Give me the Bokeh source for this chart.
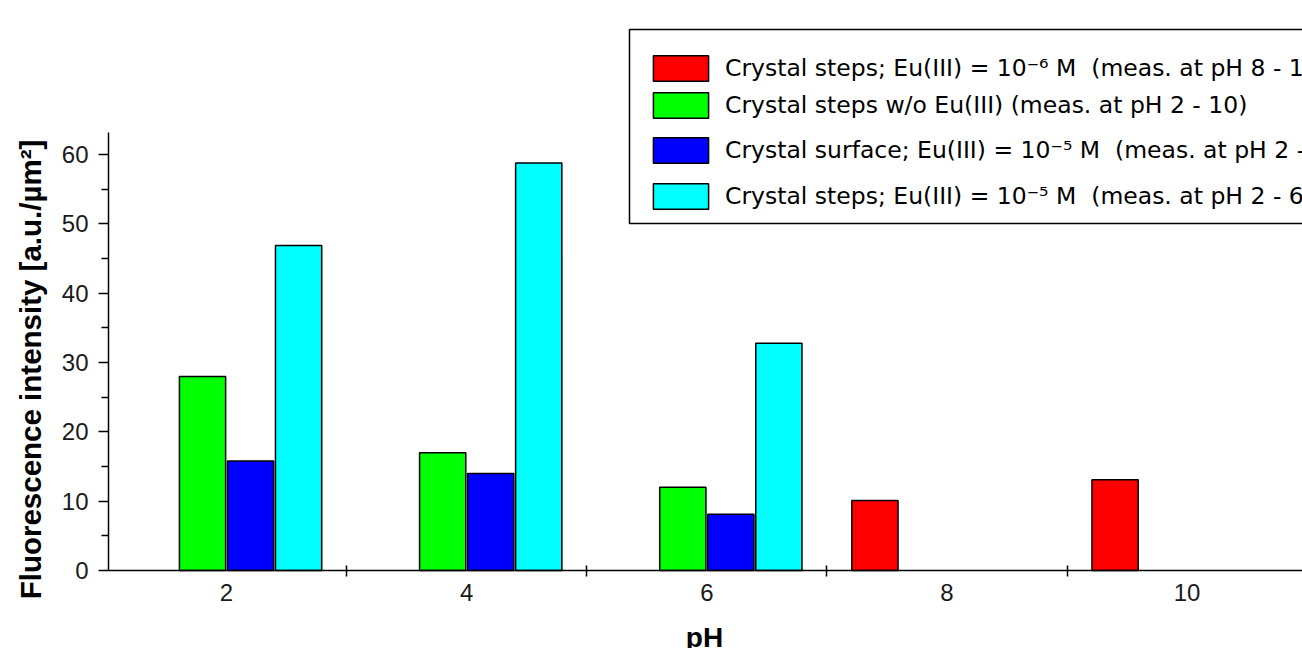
import math
from bokeh.plotting import figure
from bokeh.models import (ColumnDataSource, Range1d, FixedTicker, Legend, LegendItem,
                          BoxAnnotation, Label)
from bokeh.transform import dodge
from bokeh.embed import file_html
from bokeh.resources import INLINE

# ---- data ----
ph = [2, 4, 6, 8, 10]
red_vals = [None, None, None, 10.1, 13.1]      # Crystal steps; Eu(III)=1e-6 M
green_vals = [28.0, 17.0, 12.0, None, None]    # Crystal steps w/o Eu(III)
blue_vals = [15.8, 14.0, 8.1, None, None]      # Crystal surface; Eu(III)=1e-5 M
cyan_vals = [46.9, 58.8, 32.8, None, None]     # Crystal steps; Eu(III)=1e-5 M

labels = [
    "Crystal steps; Eu(III) = 10\u207b\u2076 M  (meas. at pH 8 - 10)",
    "Crystal steps w/o Eu(III) (meas. at pH 2 - 10)",
    "Crystal surface; Eu(III) = 10\u207b\u2075 M  (meas. at pH 2 - 6)",
    "Crystal steps; Eu(III) = 10\u207b\u2075 M  (meas. at pH 2 - 6)",
]
colors = ["#ff0000", "#00ff00", "#0000ff", "#00ffff"]
offsets = [-0.6, -0.2, 0.2, 0.6]
y_ticks = [0, 10, 20, 30, 40, 50, 60]
y_minor = [5, 15, 25, 35, 45, 55]
x_minor = [3, 5, 7, 9]

W, H = 1302, 648
X0 = 1.017          # x value at the y axis
Y_TOP = 63.2        # top of the y axis
p = figure(width=W, height=H, output_backend="svg", toolbar_location=None,
           x_range=Range1d(0.1175, 10.961), y_range=Range1d(-11.26, 82.25),
           min_border_left=0, min_border_right=0, min_border_top=0,
           min_border_bottom=0)
p.outline_line_color = None
p.grid.visible = False
p.background_fill_color = "white"
p.border_fill_color = "white"

renderers = []
for vals, col, off in zip([red_vals, green_vals, blue_vals, cyan_vals], colors, offsets):
    xs = [x for x, v in zip(ph, vals) if v is not None]
    ys = [v for v in vals if v is not None]
    src = ColumnDataSource(dict(ph=xs, val=ys))
    r = p.vbar(x=dodge("ph", off), top="val", bottom=0, width=0.385, source=src,
               fill_color=col, line_color="black", line_width=1.5)
    renderers.append(r)

# x axis (drawn at y = 0 inside the canvas)
xa = p.xaxis[0]
xa.fixed_location = 0
xa.bounds = (X0, 10.961)
xa.ticker = FixedTicker(ticks=ph, minor_ticks=x_minor)
xa.major_tick_in = 0
xa.major_tick_out = 0
xa.minor_tick_in = 5
xa.minor_tick_out = 6
xa.minor_tick_line_color = "black"
xa.minor_tick_line_width = 1.5
xa.axis_line_color = "black"
xa.axis_line_width = 1.5
xa.major_label_text_font = "Liberation Sans"
xa.major_label_text_font_size = "24px"
xa.major_label_text_color = "#1a1a1a"
xa.major_label_standoff = 8

# y axis
ya = p.yaxis[0]
ya.fixed_location = X0
ya.bounds = (0, Y_TOP)
ya.ticker = FixedTicker(ticks=y_ticks, minor_ticks=y_minor)
ya.major_tick_in = 0
ya.major_tick_out = 10
ya.minor_tick_in = 0
ya.minor_tick_out = 7
ya.major_tick_line_color = "black"
ya.major_tick_line_width = 1.5
ya.minor_tick_line_color = "black"
ya.minor_tick_line_width = 1.5
ya.axis_line_color = "black"
ya.axis_line_width = 1.5
ya.major_label_text_font = "Liberation Sans"
ya.major_label_text_font_size = "24px"
ya.major_label_text_color = "#1a1a1a"
ya.major_label_standoff = 10

# axis titles (screen units, frame == canvas)
p.add_layout(Label(x=30, y=279, x_units="screen", y_units="screen",
                   text="Fluorescence intensity [a.u./\u00b5m\u00b2]", angle=math.pi / 2,
                   text_align="center", text_baseline="alphabetic",
                   text_font="Liberation Sans", text_font_style="bold",
                   text_font_size="29.5px", text_color="black"))
p.add_layout(Label(x=704, y=11, x_units="screen", y_units="screen",
                   text="pH", text_align="center", text_baseline="alphabetic",
                   text_font="Liberation Sans", text_font_style="bold",
                   text_font_size="28px", text_color="black"))

# legend frame
p.add_layout(BoxAnnotation(left=629, right=1400, top=619, bottom=425,
                           left_units="screen", right_units="screen",
                           top_units="screen", bottom_units="screen",
                           fill_color=None, fill_alpha=0, line_color="black",
                           line_alpha=1, line_width=1.5))

# legend rows, one per series
row_y = [564, 527, 482, 436]
for r, lab, yy in zip(renderers, labels, row_y):
    leg = Legend(items=[LegendItem(label=lab, renderers=[r])], location=(646, yy),
                 glyph_width=69, glyph_height=32, label_height=32, label_standoff=10,
                 padding=0, margin=0, spacing=0, border_line_color=None,
                 background_fill_alpha=0, label_text_font="DejaVu Sans",
                 label_text_font_size="23.5px", label_text_color="black")
    p.add_layout(leg)

open("out.html", "w").write(file_html(p, INLINE))
